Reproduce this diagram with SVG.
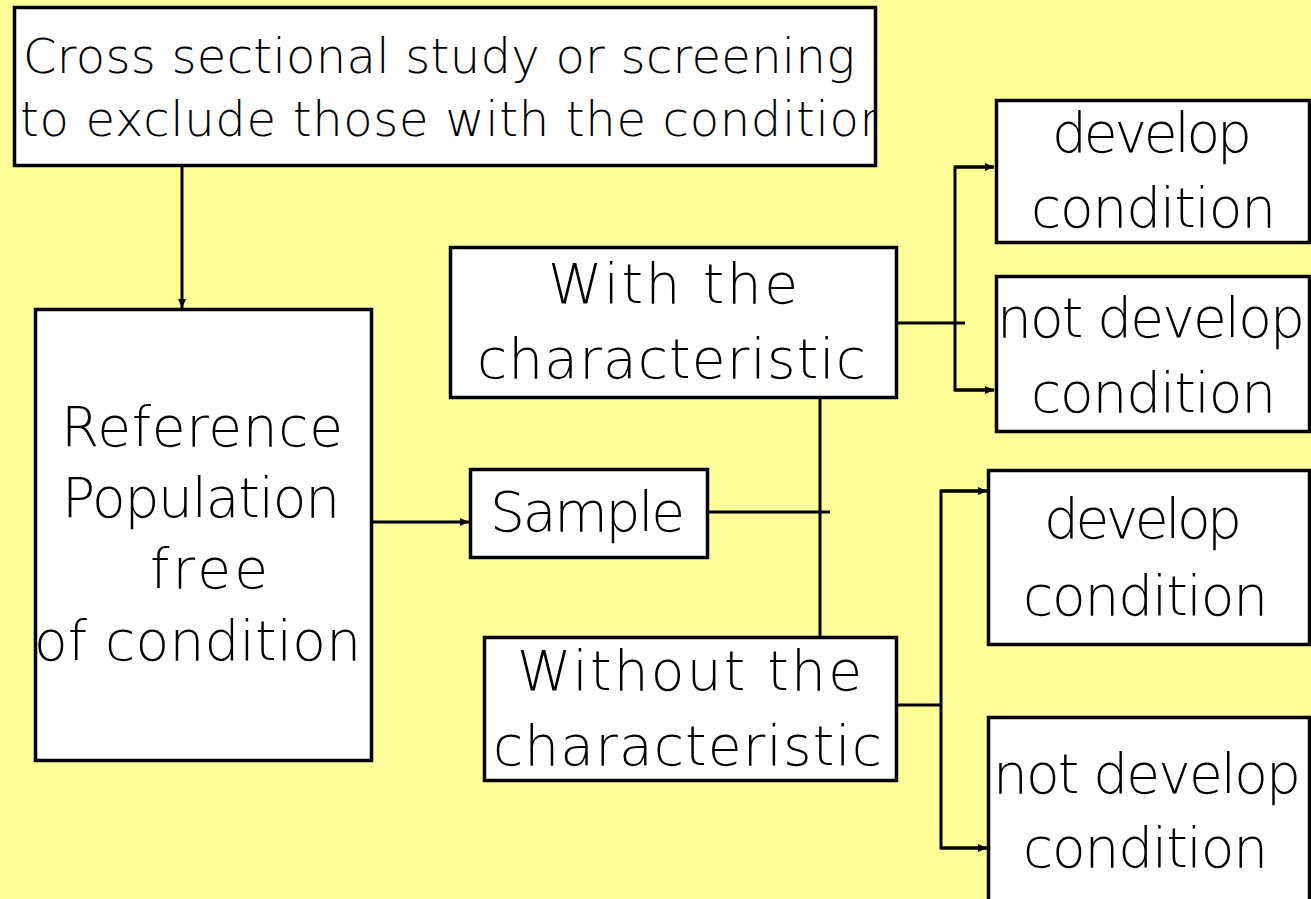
<svg xmlns="http://www.w3.org/2000/svg" width="1311" height="899" viewBox="0 0 1311 899">
<style>
.box{fill:#fff;stroke:#000;stroke-width:3.5}
.t{font-family:"DejaVu Sans","Liberation Sans",sans-serif;font-weight:200;fill:#000}
.big{font-size:55px}
.mid{font-size:48px}
.ln{fill:none;stroke:#000;stroke-width:3}
</style>
<defs>
<marker id="ah" markerUnits="userSpaceOnUse" markerWidth="10" markerHeight="10" refX="9" refY="5" orient="auto">
<path d="M0,1 L9,5 L0,9 z" fill="#000"/>
</marker>
<clipPath id="c1"><rect x="15" y="8" width="859" height="156"/></clipPath>
<clipPath id="c2"><rect x="36" y="311" width="334" height="448"/></clipPath>
</defs>
<rect width="1311" height="899" fill="#FFFF99"/>
<g id="connectors">
<line class="ln" x1="182" y1="166" x2="182" y2="308" marker-end="url(#ah)"/>
<line class="ln" x1="372" y1="522" x2="469" y2="522" marker-end="url(#ah)"/>
<line class="ln" x1="708" y1="512" x2="830" y2="512"/>
<line class="ln" x1="820" y1="398" x2="820" y2="636"/>
<line class="ln" x1="897" y1="323" x2="965" y2="323"/>
<polyline class="ln" points="994,167 955,167 955,390 994,390"/>
<line class="ln" x1="955" y1="167" x2="994" y2="167" marker-end="url(#ah)"/>
<line class="ln" x1="955" y1="390" x2="994" y2="390" marker-end="url(#ah)"/>
<line class="ln" x1="897" y1="705" x2="941" y2="705"/>
<polyline class="ln" points="987,491 941,491 941,848 987,848"/>
<line class="ln" x1="941" y1="491" x2="987" y2="491" marker-end="url(#ah)"/>
<line class="ln" x1="941" y1="848" x2="987" y2="848" marker-end="url(#ah)"/>
</g>
<g id="screening">
<rect class="box" x="14.5" y="7.5" width="861" height="158"/>
<g clip-path="url(#c1)">
<text class="t mid" x="23" y="73" textLength="832" lengthAdjust="spacing">Cross sectional study or screening</text>
<text class="t mid" x="20" y="136" textLength="870" lengthAdjust="spacing">to exclude those with the condition</text>
</g>
</g>
<g id="reference">
<rect class="box" x="35.5" y="309.5" width="336" height="451"/>
<g clip-path="url(#c2)">
<text class="t big" x="61" y="446" textLength="282" lengthAdjust="spacing">Reference</text>
<text class="t big" x="62" y="517" textLength="278" lengthAdjust="spacing">Population</text>
<text class="t big" x="150" y="588" textLength="118" lengthAdjust="spacing">free</text>
<text class="t big" x="34" y="660" textLength="327" lengthAdjust="spacing">of condition</text>
</g>
</g>
<g id="sample">
<rect class="box" x="470.5" y="469.5" width="237" height="88"/>
<text class="t big" x="490" y="531" textLength="195" lengthAdjust="spacing">Sample</text>
</g>
<g id="with">
<rect class="box" x="450.5" y="247.5" width="446" height="150"/>
<text class="t big" x="548" y="303" textLength="250" lengthAdjust="spacing">With the</text>
<text class="t big" x="477" y="378" textLength="389" lengthAdjust="spacing">characteristic</text>
</g>
<g id="without">
<rect class="box" x="484.5" y="637.5" width="412" height="143"/>
<text class="t big" x="517" y="690" textLength="345" lengthAdjust="spacing">Without the</text>
<text class="t big" x="493" y="765" textLength="389" lengthAdjust="spacing">characteristic</text>
</g>
<g id="develop1">
<rect class="box" x="996.5" y="100.5" width="313" height="142"/>
<text class="t big" x="1052" y="152" textLength="200" lengthAdjust="spacing">develop</text>
<text class="t big" x="1031" y="227" textLength="245" lengthAdjust="spacing">condition</text>
</g>
<g id="notdevelop1">
<rect class="box" x="996.5" y="276.5" width="313" height="155"/>
<text class="t big" x="997" y="337" textLength="308" lengthAdjust="spacing">not develop</text>
<text class="t big" x="1031" y="412" textLength="245" lengthAdjust="spacing">condition</text>
</g>
<g id="develop2">
<rect class="box" x="988.5" y="470.5" width="321" height="174"/>
<text class="t big" x="1044" y="538" textLength="198" lengthAdjust="spacing">develop</text>
<text class="t big" x="1023" y="615" textLength="245" lengthAdjust="spacing">condition</text>
</g>
<g id="notdevelop2">
<rect class="box" x="988.5" y="717.5" width="321" height="200"/>
<text class="t big" x="993" y="793" textLength="308" lengthAdjust="spacing">not develop</text>
<text class="t big" x="1023" y="867" textLength="245" lengthAdjust="spacing">condition</text>
</g>
</svg>
